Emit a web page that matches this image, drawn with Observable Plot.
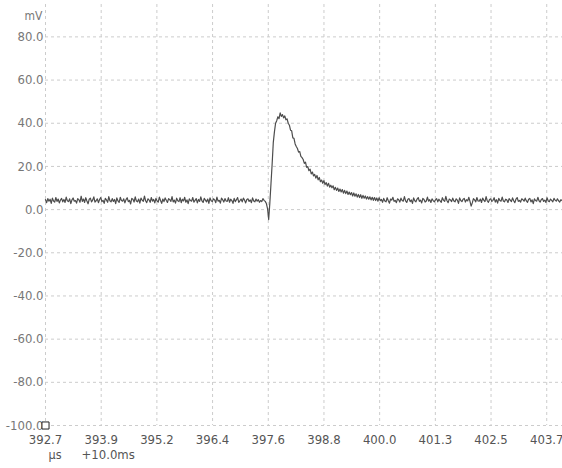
<!DOCTYPE html>
<html><head><meta charset="utf-8">
<script src="https://cdn.jsdelivr.net/npm/d3@7"></script>
<script src="https://cdn.jsdelivr.net/npm/@observablehq/plot@0.6"></script>
<style>
body{margin:0;background:#fff;}
svg{font-family:"Liberation Sans Narrow","DejaVu Sans Condensed","Open Sans",sans-serif;}
</style></head>
<body><div id="chart"></div>
<script>
const xStart = 392.7;          // µs, first sample / first tick
const xEnd = 404.16;           // µs, right edge of window
const sampleStep = 0.0255;     // µs between samples
const xTickStep = 1.2345;      // µs between ticks
const xTickLabels = ["392.7","393.9","395.2","396.4","397.6","398.8","400.0","401.3","402.5","403.7"];
const yTicks = [80,60,40,20,0,-20,-40,-60,-80,-100];
const yDomain = [-100, 95];
const yUnit = "mV";
const xUnit = "µs";
const xOffsetLabel = "+10.0ms";

// baseline before the pulse (mV)
const baselineBefore = [
4.6,3.2,5.1,3.9,4.8,2.9,5.3,4.0,3.5,5.6,3.8,4.9,3.1,4.4,5.2,3.6,
4.7,3.3,5.8,4.1,3.7,5.0,2.8,4.5,5.4,3.9,4.2,3.0,5.1,4.6,3.4,6.2,
3.8,4.9,3.3,5.5,4.0,2.7,4.8,5.3,3.6,4.4,5.9,3.5,4.1,5.0,3.2,4.7,
5.6,3.7,4.3,2.9,5.2,4.5,3.4,6.0,4.1,3.6,5.1,3.8,4.7,2.8,5.4,4.0,
3.3,5.7,4.2,3.9,5.0,3.1,4.6,5.5,3.7,4.3,2.6,5.2,4.8,3.5,5.9,4.0,
3.6,4.9,3.0,5.3,4.4,3.8,6.3,4.1,3.2,5.0,4.5,3.4,5.6,3.9,4.7,3.1,
5.2,4.0,3.5,5.8,4.2,2.9,4.9,3.7,5.4,4.3,3.3,5.1,4.6,3.8,6.0,3.6,
4.4,3.0,5.3,4.1,3.7,5.5,3.2,4.8,4.0,5.7,3.4,4.5,2.8,5.0,4.2,3.9,
5.6,3.5,4.3,5.1,3.1,4.7,3.8,5.9,4.0,3.3,5.2,4.4,3.6,4.9,2.9,5.4,
4.1,3.7,5.0,4.5,3.2,5.8,3.9,4.3,3.0,5.3,4.6,3.5,5.1,4.0,3.8,5.5,
3.4,4.8,4.2,2.9,5.2,3.7,4.6,5.6,3.3,4.1,4.9,3.6,5.3,4.4,3.1,4.7,
5.0,3.8,4.5,3.2,5.4,4.0,3.6,4.9,3.9,4.6,3.4,4.2,3.7,5.1,4.3,3.8
];
// dip, rise and peak (mV)
const pulseRise = [2.8,0.5,-4.6,3.0,12,21,31,36,40,41.2,43.0,42.1,44.8,43.2,44.0,42.5,43.4,41.6,42.0];
// decay (mV)
const pulseDecay = [
40.0,39.1,36.8,36.5,33.2,33.0,30.4,29.2,28.3,26.6,26.9,24.7,24.1,23.2,21.4,22.0,
19.6,19.9,18.0,18.7,16.5,17.4,15.6,16.3,14.6,15.8,13.8,14.9,12.9,13.7,12.2,13.4,
11.6,12.5,10.9,12.2,10.4,11.3,10.1,11.0,9.2,10.3,8.9,10.0,8.4,9.5,8.2,9.3,
7.6,8.9,7.4,8.6,7.0,8.1,6.9,7.9,6.3,7.7,6.2,7.3,5.8,7.0,5.6,6.9,
5.2,6.6,5.3,6.3,4.9,6.0,4.8,5.9,4.5,5.7,4.3,5.6,4.2,5.4,3.9,5.5,4.1
];
// baseline after the pulse (mV)
const baselineAfter = [
4.7,3.4,5.2,4.0,3.6,5.5,4.1,3.0,4.9,4.4,5.7,3.8,4.3,3.2,5.0,4.6,
3.5,5.3,4.2,3.9,6.0,4.0,3.3,4.8,5.1,3.7,4.5,2.9,5.4,4.1,3.6,4.9,
5.6,3.8,4.4,3.1,5.2,4.7,3.5,4.0,5.8,3.9,4.6,3.3,5.0,4.2,3.6,4.5,
5.1,3.6,4.8,4.0,3.4,5.5,4.3,3.8,6.1,4.1,3.2,4.9,4.5,3.7,5.3,4.0,
3.6,5.0,4.4,2.9,5.4,4.2,3.7,4.8,5.2,3.5,4.6,4.0,5.7,3.8,1.6,3.1,
5.1,4.5,3.6,5.6,4.0,3.9,4.9,3.3,5.3,4.4,3.7,6.0,4.1,3.4,4.7,5.0,
3.8,4.3,5.5,3.5,4.6,3.0,5.2,4.2,3.9,5.8,4.0,3.6,4.8,4.5,3.3,5.1,
4.4,3.7,5.4,4.1,3.2,4.9,5.6,3.8,4.3,3.5,5.0,4.6,3.9,5.3,4.0,3.4,
4.8,5.2,3.6,4.5,2.8,5.0,4.2,3.9,5.7,4.1,3.5,4.7,5.1,3.8,4.4,3.3,
5.5,4.0,3.7,4.9,4.3,3.6,5.2,4.4,3.9,5.0,4.1,3.5,4.6,4.2
];

const samples = [...baselineBefore, ...pulseRise, ...pulseDecay, ...baselineAfter];
const data = samples.map((v, i) => ({t: xStart + i * sampleStep, v}));
const xTicks = xTickLabels.map((_, i) => xStart + i * xTickStep);
const labelOf = new Map(xTicks.map((t, i) => [t, xTickLabels[i]]));

const gridStyle = {stroke: "#cccccc", strokeOpacity: 1, strokeDasharray: "3,3", strokeWidth: 1};

const chart = Plot.plot({
  width: 562,
  height: 468,
  marginLeft: 45,
  marginRight: 0,
  marginTop: 4,
  marginBottom: 43,
  style: {fontSize: "12.5px", color: "#666", background: "#fff"},
  x: {domain: [xStart, xEnd]},
  y: {domain: yDomain},
  marks: [
    Plot.gridX(xTicks, gridStyle),
    Plot.gridY(yTicks, gridStyle),
    Plot.axisX(xTicks, {tickSize: 0, tickPadding: 9, tickFormat: d => labelOf.get(d), label: null, fill: "#555", fontSize: 13}),
    Plot.axisY(yTicks, {tickSize: 0, tickPadding: 2, tickFormat: d => d.toFixed(1), label: null, fill: "#777", fontSize: 13}),
    Plot.line(data, {x: "t", y: "v", stroke: "#4d4d4d", strokeWidth: 1.2}),
    Plot.dot([{t: xStart, v: yDomain[0]}], {x: "t", y: "v", symbol: "square", r: 4, fill: "#fff", stroke: "#222", strokeWidth: 1}),
    Plot.text([yUnit], {frameAnchor: "top-left", dx: -3, dy: 7, textAnchor: "end", fill: "#777", fontSize: 12}),
    Plot.text([xUnit], {frameAnchor: "bottom-left", dx: 3, dy: 33, fill: "#555", fontSize: 12.5}),
    Plot.text([xOffsetLabel], {frameAnchor: "bottom-left", dx: 36, dy: 33, fill: "#555", fontSize: 13})
  ]
});
document.getElementById("chart").append(chart);
</script>
</body></html>
